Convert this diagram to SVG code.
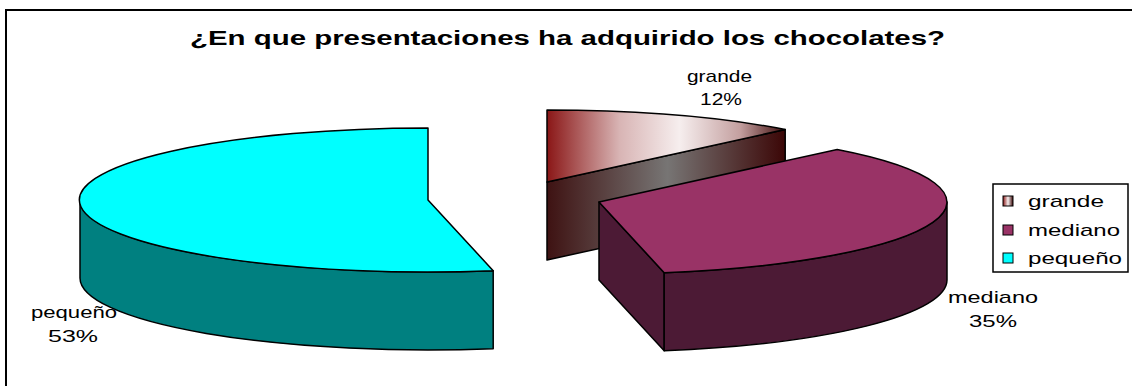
<svg xmlns="http://www.w3.org/2000/svg" width="1132" height="386" viewBox="0 0 1132 386">
<style>
.t{font-family:"Liberation Sans",Arial,sans-serif;font-size:17px;fill:#000}
.ttl{font-family:"Liberation Sans",Arial,sans-serif;font-size:20px;font-weight:bold;fill:#000}
.e{stroke:#000;stroke-width:1.5;stroke-linejoin:round}
</style>
<defs>
<linearGradient id="gTop" gradientUnits="userSpaceOnUse" x1="547" y1="0" x2="788" y2="0">
<stop offset="0" stop-color="#8a1616"/>
<stop offset="0.3" stop-color="#d8b4b4"/>
<stop offset="0.55" stop-color="#f6eeee"/>
<stop offset="0.8" stop-color="#c4a0a0"/>
<stop offset="1" stop-color="#3a0606"/>
</linearGradient>
<linearGradient id="gSide" gradientUnits="userSpaceOnUse" x1="547" y1="0" x2="788" y2="0">
<stop offset="0" stop-color="#3e1212"/>
<stop offset="0.5" stop-color="#777574"/>
<stop offset="1" stop-color="#3a0404"/>
</linearGradient>
<linearGradient id="gLeg" x1="0" y1="0" x2="1" y2="0">
<stop offset="0" stop-color="#8a1616"/>
<stop offset="0.5" stop-color="#f6eeee"/>
<stop offset="1" stop-color="#3a0606"/>
</linearGradient>
</defs>
<path d="M6,386 L6,10 L1132,10" fill="none" stroke="#000" stroke-width="2"/>
<text class="ttl" x="190" y="45" textLength="755" lengthAdjust="spacingAndGlyphs">¿En que presentaciones ha adquirido los chocolates?</text>
<g id="grande">
<path class="e" d="M547,182 L785.2,129.5 L785.2,207.5 L547,260 Z" fill="url(#gSide)"/>
<path class="e" d="M547,182 L547,110 A348,72 0 0 1 785.2,129.5 Z" fill="url(#gTop)"/>
<text class="t" x="687" y="82" textLength="65" lengthAdjust="spacingAndGlyphs">grande</text>
<text class="t" x="700" y="105" textLength="42" lengthAdjust="spacingAndGlyphs">12%</text>
</g>
<g id="mediano">
<path class="e" d="M599,202 L664.2,272.7 L664.2,350.7 L599,280 Z" fill="#4c1a35"/>
<path class="e" d="M947,202 A348,72 0 0 1 664.2,272.7 L664.2,350.7 A348,72 0 0 0 947,280 Z" fill="#4c1a35"/>
<path class="e" d="M599,202 L837.2,149.5 A348,72 0 0 1 664.2,272.7 Z" fill="#993366"/>
<text class="t" x="948" y="303" textLength="90" lengthAdjust="spacingAndGlyphs">mediano</text>
<text class="t" x="969" y="327" textLength="48" lengthAdjust="spacingAndGlyphs">35%</text>
</g>
<g id="pequeno">
<path class="e" d="M80,200 A348,72 0 0 0 493.2,270.7 L493.2,348.7 A348,72 0 0 1 80,278 Z" fill="#008080"/>
<path class="e" d="M428,200 L428,128 A348,72 0 1 0 493.2,270.7 Z" fill="#00ffff"/>
<text class="t" x="31" y="318" textLength="86" lengthAdjust="spacingAndGlyphs">pequeño</text>
<text class="t" x="48" y="342" textLength="50" lengthAdjust="spacingAndGlyphs">53%</text>
</g>
<g id="legend">
<rect x="993" y="184" width="135" height="88" fill="#fff" stroke="#000" stroke-width="1.5"/>
<rect x="1003" y="196" width="10" height="10" fill="url(#gLeg)" stroke="#000" stroke-width="1"/>
<rect x="1003" y="225" width="10" height="10" fill="#993366" stroke="#000" stroke-width="1"/>
<rect x="1003" y="253" width="10" height="10" fill="#00ffff" stroke="#000" stroke-width="1"/>
<text class="t" x="1028" y="207" textLength="76" lengthAdjust="spacingAndGlyphs">grande</text>
<text class="t" x="1028" y="236" textLength="92" lengthAdjust="spacingAndGlyphs">mediano</text>
<text class="t" x="1028" y="264" textLength="94" lengthAdjust="spacingAndGlyphs">pequeño</text>
</g>
</svg>
